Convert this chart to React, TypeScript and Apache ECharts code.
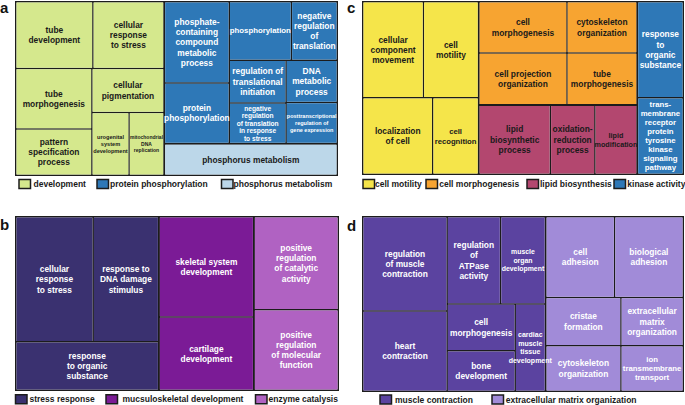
import React, { useEffect, useRef } from 'react';
import * as echarts from 'echarts';

const FONT = '"Liberation Sans", Arial, Helvetica, sans-serif';
const BORDER = '#1c1c1c';

// ---------- Panel a ----------
const aGroups = ['development', 'protein phosphorylation', 'phosphorus metabolism'];
const aColors = ['#d5e88d', '#2e78b7', '#bcd7e9'];
const aTextColors = ['#1a1a1a', '#ffffff', '#1a1a1a'];
const aTerms = [
  ['tube\ndevelopment', 'cellular\nresponse\nto stress', 'tube\nmorphogenesis', 'pattern\nspecification\nprocess', 'cellular\npigmentation', 'urogenital\nsystem\ndevelopment', 'mitochondrial\nDNA\nreplication'],
  ['phosphate-\ncontaining\ncompound\nmetabolic\nprocess', 'protein\nphosphorylation', 'phosphorylation', 'negative\nregulation\nof\ntranslation', 'regulation of\ntranslational\ninitiation', 'negative\nregulation\nof translation\nin response\nto stress', 'DNA\nmetabolic\nprocess', 'posttranscriptional\nregulation of\ngene expression'],
  ['phosphorus metabolism'],
];
const aValues = [
  [5186, 4777, 4630, 3545, 3181, 2350, 2205],
  [5304, 3946, 3651, 2696, 2451, 2320, 2175, 2119],
  [5494],
];

// ---------- Panel b ----------
const bGroups = ['stress response', 'mucsuloskeletal development', 'enzyme catalysis'];
const bColors = ['#3a3170', '#7b1b96', '#b062c2'];
const bTextColors = ['#ffffff', '#ffffff', '#ffffff'];
const bTerms = [
  ['cellular\nresponse\nto stress', 'response to\nDNA damage\nstimulus', 'response\nto organic\nsubstance'],
  ['skeletal system\ndevelopment', 'cartilage\ndevelopment'],
  ['positive\nregulation\nof catalytic\nactivity', 'positive\nregulation\nof molecular\nfunction'],
];
const bValues = [
  [9736, 8232, 6984],
  [9557, 6973],
  [7893, 6827],
];

// ---------- Panel c ----------
const cGroups = ['cell motility', 'cell morphogenesis', 'lipid biosynthesis', 'kinase activity'];
const cColors = ['#f5e54a', '#f7a431', '#b3476f', '#2e78b7'];
const cTextColors = ['#1a1a1a', '#1a1a1a', '#1a1a1a', '#ffffff'];
const cTerms = [
  ['cellular\ncomponent\nmovement', 'cell\nmotility', 'localization\nof cell', 'cell\nrecognition'],
  ['cell\nmorphogenesis', 'cell projection\norganization', 'cytoskeleton\norganization', 'tube\nmorphogenesis'],
  ['lipid\nbiosynthetic\nprocess', 'oxidation-\nreduction\nprocess', 'lipid\nmodification'],
  ['response\nto\norganic\nsubstance', 'trans-\nmembrane\nreceptor\nprotein\ntyrosine\nkinase\nsignaling\npathway'],
];
const cValues = [
  [5856, 5309, 5364, 3510],
  [4535, 4570, 3606, 3635],
  [4969, 3098, 2931],
  [4445, 3533],
];

// ---------- Panel d ----------
const dGroups = ['muscle contraction', 'extracellular matrix organization'];
const dColors = ['#5b43a0', '#a18bd8'];
const dTextColors = ['#ffffff', '#ffffff'];
const dTerms = [
  ['regulation\nof muscle\ncontraction', 'heart\ncontraction', 'regulation\nof\nATPase\nactivity', 'muscle\norgan\ndevelopment', 'cell\nmorphogenesis', 'bone\ndevelopment', 'cardiac\nmuscle\ntissue\ndevelopment'],
  ['cell\nadhesion', 'biological\nadhesion', 'cristae\nformation', 'cytoskeleton\norganization', 'extracellular\nmatrix\norganization', 'ion\ntransmembrane\ntransport'],
];
const dValues = [
  [8013, 6810, 4695, 3942, 3190, 2780, 2648],
  [5589, 5589, 3642, 3446, 3024, 2861],
];

// label font overrides (style only): [fontSize, lineHeight]
const labelStyle: Record<string, [number, number]> = {
  'urogenital\nsystem\ndevelopment': [5.6, 7],
  'mitochondrial\nDNA\nreplication': [5, 6.5],
  'negative\nregulation\nof translation\nin response\nto stress': [6.6, 7.6],
  'posttranscriptional\nregulation of\ngene expression': [5.5, 6.7],
  'phosphorylation': [7.8, 10],
  'cell\nrecognition': [7.7, 10],
  'lipid\nmodification': [7.2, 9],
  'trans-\nmembrane\nreceptor\nprotein\ntyrosine\nkinase\nsignaling\npathway': [7.8, 9.1],
  'muscle\norgan\ndevelopment': [6.9, 8.5],
  'cardiac\nmuscle\ntissue\ndevelopment': [7, 8.5],
  'ion\ntransmembrane\ntransport': [7.8, 9.2],
};

type Rect = { left: number; top: number; width: number; height: number };

function buildSeries(
  groups: string[], colors: string[], textColors: string[],
  terms: string[][], values: number[][], rect: Rect, ratio: number
) {
  return {
    type: 'treemap',
    left: rect.left, top: rect.top, width: rect.width, height: rect.height,
    roam: false,
    nodeClick: false,
    breadcrumb: { show: false },
    squareRatio: ratio,
    sort: false,
    animation: false,
    label: {
      show: true, position: 'inside', formatter: '{b}',
      fontFamily: FONT, fontWeight: 'bold', fontSize: 8.4, lineHeight: 10.3,
      padding: 0, overflow: 'none', align: 'center', verticalAlign: 'middle',
    },
    upperLabel: { show: false },
    levels: [
      { itemStyle: { borderColor: BORDER, borderWidth: 1.5, gapWidth: 2 } },
      { itemStyle: { borderColor: BORDER, borderWidth: 0, gapWidth: 1.5 } },
      { itemStyle: { borderWidth: 0, gapWidth: 0 } },
    ],
    data: groups.map((g, gi) => ({
      name: g,
      itemStyle: { color: colors[gi], borderColor: BORDER },
      children: terms[gi].map((t, ti) => {
        const st = labelStyle[t];
        return {
          name: t,
          value: values[gi][ti],
          itemStyle: { color: colors[gi] },
          label: {
            color: textColors[gi],
            fontSize: st ? st[0] : 8.4,
            lineHeight: st ? st[1] : 10.3,
          },
        };
      }),
    })),
  };
}

function legend(groups: string[], colors: string[], xs: [number, number][], y: number) {
  const els: any[] = [];
  groups.forEach((g, i) => {
    els.push({
      type: 'rect',
      shape: { x: xs[i][0], y: y - 4.5, width: 11.5, height: 9 },
      style: { fill: colors[i], stroke: BORDER, lineWidth: 1.5 },
      silent: true,
    });
    els.push({
      type: 'text',
      x: xs[i][1], y: y,
      style: {
        text: g, fill: '#1a1a1a', font: `bold 8.5px ${FONT}`,
        align: 'left', verticalAlign: 'middle',
      },
      silent: true,
    });
  });
  return els;
}

function letter(t: string, x: number, y: number) {
  return {
    type: 'text', x, y,
    style: { text: t, fill: '#111', font: `bold 15px ${FONT}`, align: 'left', verticalAlign: 'middle' },
    silent: true,
  };
}

export default function App() {
  const ref = useRef<HTMLDivElement>(null);
  useEffect(() => {
    if (!ref.current) return;
    const chart = echarts.init(ref.current, undefined, { renderer: 'svg' });
    chart.setOption({
      animation: false,
      backgroundColor: '#ffffff',
      series: [
        buildSeries(aGroups, aColors, aTextColors, aTerms, aValues, { left: 15, top: 1, width: 323, height: 175 }, 1),
        buildSeries(bGroups, bColors, bTextColors, bTerms, bValues, { left: 15, top: 216, width: 324, height: 175 }, 1),
        buildSeries(cGroups, cColors, cTextColors, cTerms, cValues, { left: 362, top: 1, width: 322, height: 174 }, 1.2),
        buildSeries(dGroups, dColors, dTextColors, dTerms, dValues, { left: 362, top: 216, width: 322, height: 176 }, 1),
      ],
      graphic: [
        letter('a', 0, 7),
        letter('b', 0, 224.5),
        letter('c', 347, 7),
        letter('d', 347, 225.5),
        ...legend(aGroups, aColors, [[19, 33.5], [97, 110], [221.5, 233.5]], 184),
        ...legend(bGroups, bColors, [[15.5, 29.5], [106, 122.5], [255.5, 268.5]], 399.3),
        ...legend(cGroups, cColors, [[363, 375], [426, 439.3], [527, 540], [614, 627.3]], 184),
        ...legend(dGroups, dColors, [[380, 395], [492, 505.7]], 399.5),
      ],
    });
    return () => chart.dispose();
  }, []);
  return (
    <div
      ref={ref}
      style={{ position: 'fixed', left: 0, top: 0, width: 685, height: 405 }}
    />
  );
}
